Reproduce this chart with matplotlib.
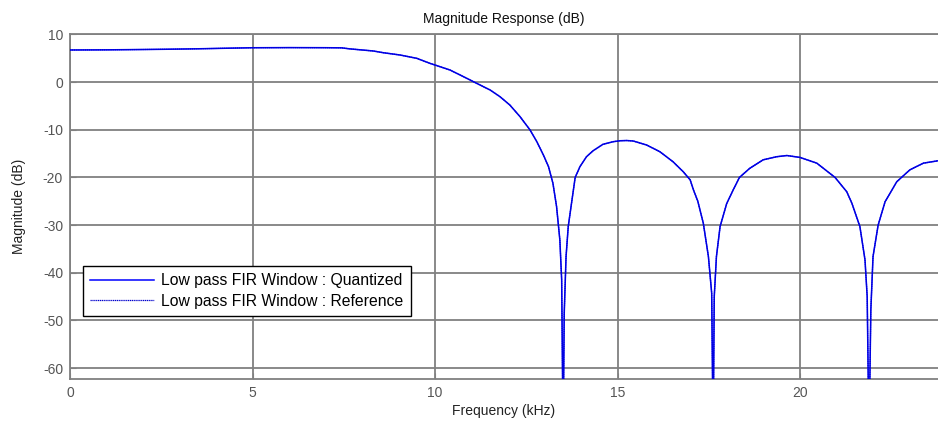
import matplotlib
matplotlib.use("Agg")
import matplotlib.pyplot as plt

# Data (frequency in kHz, magnitude in dB)
freq_khz = [0.0, 1.0, 2.0, 2.6, 3.5, 4.5, 5.0, 6.0, 7.0, 7.44, 7.67, 8.31, 8.58,
            9.04, 9.5, 9.86, 10.41, 10.78, 11.14, 11.51, 11.78, 12.05, 12.33,
            12.6, 12.79, 12.97, 13.11, 13.23, 13.33, 13.42, 13.47, 13.51, 13.54,
            13.59, 13.65, 13.74, 13.84, 13.97, 14.15, 14.33, 14.6, 14.88, 15.07,
            15.25, 15.43, 15.8, 16.16, 16.52, 16.8, 16.99, 17.08, 17.2, 17.35,
            17.49, 17.58, 17.62, 17.65, 17.71, 17.81, 17.99, 18.17, 18.34, 18.62,
            18.99, 19.36, 19.64, 20.0, 20.46, 20.96, 21.28, 21.42, 21.64, 21.78,
            21.84, 21.89, 21.94, 22.0, 22.14, 22.33, 22.65, 23.01, 23.38, 23.78]
mag_quantized = [6.75, 6.78, 6.85, 6.9, 7.0, 7.15, 7.22, 7.25, 7.23, 7.2, 6.98,
                 6.54, 6.18, 5.7, 5.0, 3.95, 2.55, 1.15, -0.24, -1.65, -3.05, -4.8,
                 -7.25, -10.0, -12.5, -15.3, -17.75, -21.2, -26.1, -33.1, -41.5,
                 -75.0, -48.5, -36.6, -30.3, -25.4, -20.0, -17.75, -15.65, -14.4,
                 -13.05, -12.5, -12.3, -12.25, -12.35, -13.2, -14.6, -16.7, -18.8,
                 -20.5, -22.6, -25.0, -29.6, -36.6, -44.3, -75.0, -45.0, -36.6,
                 -30.3, -25.5, -22.6, -20.0, -18.1, -16.3, -15.65, -15.4, -15.8,
                 -17.0, -20.0, -23.0, -25.4, -30.3, -37.3, -45.0, -75.0, -47.8,
                 -36.6, -30.0, -25.1, -20.9, -18.4, -17.0, -16.5]
mag_reference = list(mag_quantized)

series_labels = ["Low pass FIR Window : Quantized", "Low pass FIR Window : Reference"]
xticks = [0, 5, 10, 15, 20]
yticks = [10, 0, -10, -20, -30, -40, -50, -60]

plt.rcParams['font.family'] = ['Liberation Sans', 'DejaVu Sans']
plt.rcParams['axes.unicode_minus'] = False

fig = plt.figure(figsize=(9.38, 4.23), dpi=100)
ax = fig.add_axes([70 / 938, 44 / 423, 868 / 938, 344.5 / 423])

grid_col = '#808080'
ax.plot(freq_khz, mag_quantized, color='#0000ff', lw=1.1, label=series_labels[0], zorder=3)
ax.plot(freq_khz, mag_reference, color='#0000cc', lw=0.9, ls=(0, (1, 0.5)),
        label=series_labels[1], zorder=3)

ax.set_xlim(0, 23.78)
ax.set_ylim(-62.3, 10)
ax.set_xticks(xticks)
ax.set_yticks(yticks)
ax.grid(True, color=grid_col, lw=1.3, ls='-')
ax.set_axisbelow(True)
for side in ['left', 'bottom', 'top']:
    ax.spines[side].set_color(grid_col)
    ax.spines[side].set_linewidth(1.3)
ax.spines['right'].set_visible(False)
ax.tick_params(direction='in', length=4, color=grid_col, labelsize=10,
               labelcolor='#555555', pad=5)

ax.set_title("Magnitude Response (dB)", fontsize=10, color='#111111', pad=8)
ax.set_xlabel("Frequency (kHz)", fontsize=10, color='#222222', labelpad=3)
ax.set_ylabel("Magnitude (dB)", fontsize=10, color='#222222', labelpad=12)

leg = ax.legend(loc='lower left', bbox_to_anchor=(13 / 868, 63 / 344.5),
                borderaxespad=0, fancybox=False, framealpha=1, edgecolor='black',
                fontsize=11.3, handlelength=4.1, handletextpad=0.45,
                borderpad=0.45, labelspacing=0.35)
leg.get_frame().set_linewidth(1.0)

fig.savefig("out.png", dpi=100)
